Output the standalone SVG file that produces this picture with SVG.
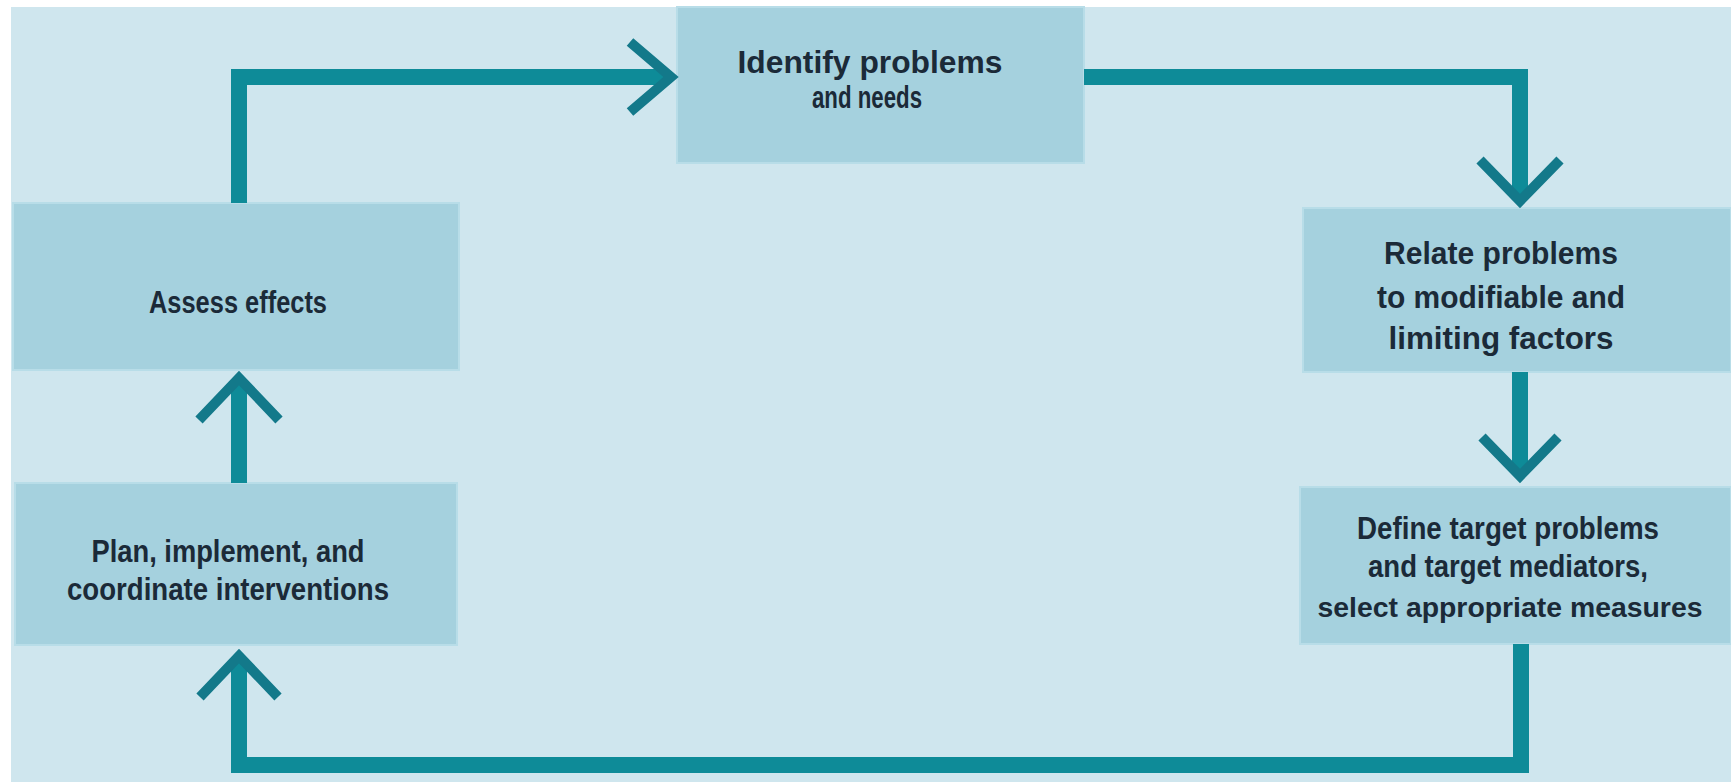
<svg xmlns="http://www.w3.org/2000/svg" width="1731" height="782" viewBox="0 0 1731 782">
<style>
.box{fill:#a5d1de;stroke:#b8dde8;stroke-width:2}
.lbl{font-family:"Liberation Sans Narrow","Liberation Sans",Arial,sans-serif;font-weight:bold;font-size:31px;fill:#1b2a38;text-anchor:middle}
.sm{font-size:28px}
.ln{fill:none;stroke:#0e8b98;stroke-width:16;stroke-linejoin:miter;stroke-linecap:butt}
.hd{fill:none;stroke:#13798a;stroke-width:10;stroke-linejoin:miter;stroke-linecap:butt}
</style>
<rect x="0" y="0" width="1731" height="782" fill="#ffffff"/>
<rect x="11" y="7" width="1720" height="775" fill="#cfe6ee"/>
<g id="node-identify">
<rect class="box" x="677" y="7" width="407" height="156"/>
<text class="lbl" x="870" y="73" textLength="265" lengthAdjust="spacingAndGlyphs">Identify problems</text>
<text class="lbl" x="867" y="108" textLength="110" lengthAdjust="spacingAndGlyphs">and needs</text>
</g>
<g id="node-assess">
<rect class="box" x="13" y="203" width="446" height="167"/>
<text class="lbl" x="238" y="313" textLength="178" lengthAdjust="spacingAndGlyphs">Assess effects</text>
</g>
<g id="node-relate">
<rect class="box" x="1303" y="208" width="428" height="164"/>
<text class="lbl" x="1501" y="264" textLength="234" lengthAdjust="spacingAndGlyphs">Relate problems</text>
<text class="lbl" x="1501" y="308" textLength="248" lengthAdjust="spacingAndGlyphs">to modifiable and</text>
<text class="lbl" x="1501" y="349" textLength="225" lengthAdjust="spacingAndGlyphs">limiting factors</text>
</g>
<g id="node-define">
<rect class="box" x="1300" y="487" width="431" height="157"/>
<text class="lbl" x="1508" y="539" textLength="302" lengthAdjust="spacingAndGlyphs">Define target problems</text>
<text class="lbl" x="1508" y="577" textLength="280" lengthAdjust="spacingAndGlyphs">and target mediators,</text>
<text class="lbl sm" x="1510" y="617" textLength="385" lengthAdjust="spacingAndGlyphs">select appropriate measures</text>
</g>
<g id="node-plan">
<rect class="box" x="15" y="483" width="442" height="162"/>
<text class="lbl" x="228" y="562" textLength="273" lengthAdjust="spacingAndGlyphs">Plan, implement, and</text>
<text class="lbl" x="228" y="600" textLength="322" lengthAdjust="spacingAndGlyphs">coordinate interventions</text>
</g>
<g id="connectors">
<path class="ln" d="M239,203 V77 H668"/>
<polyline class="hd" points="630,42 671,77 630,112"/>
<path class="ln" d="M1084,77 H1520 V198"/>
<polyline class="hd" points="1480,160 1520,201 1560,160"/>
<path class="ln" d="M1520,372 V472"/>
<polyline class="hd" points="1482,437 1520,476 1558,437"/>
<path class="ln" d="M1521,644 V765 H239 V658"/>
<polyline class="hd" points="200,697 239,656 278,697"/>
<path class="ln" d="M239,483 V382"/>
<polyline class="hd" points="199,420 239,378 279,420"/>
</g>
</svg>
